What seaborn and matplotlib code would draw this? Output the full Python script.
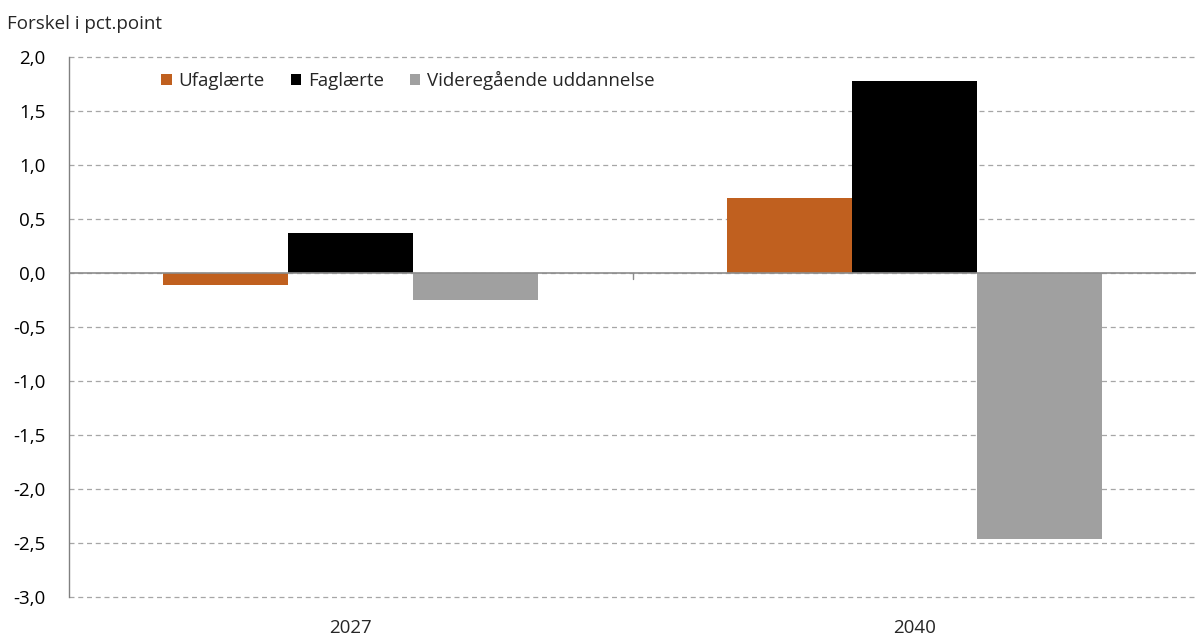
import numpy as np
import pandas as pd
import matplotlib
matplotlib.use("Agg")
import matplotlib.pyplot as plt
import seaborn as sns
from matplotlib.ticker import FuncFormatter

# data
years = ["2027", "2040"]
groups = ["Ufaglærte", "Faglærte", "Videregående uddannelse"]
ufaglaerte = [-0.11, 0.69]
faglaerte = [0.37, 1.78]
videregaaende = [-0.25, -2.46]
colors = ["#C0601F", "#000000", "#A0A0A0"]

df = pd.DataFrame({
    "aar": years * 3,
    "gruppe": [g for g in groups for _ in years],
    "vaerdi": ufaglaerte + faglaerte + videregaaende,
})

sns.set_style("white")
plt.rcParams["font.family"] = ["Open Sans", "DejaVu Sans"]

fig = plt.figure(figsize=(11.96, 6.37), dpi=100)
ax = fig.add_axes([69 / 1196, 1 - 597 / 637, 1 - 69 / 1196, (597 - 57) / 637])

sns.barplot(data=df, x="aar", y="vaerdi", hue="gruppe", hue_order=groups,
            palette=colors, width=0.665, saturation=1, ax=ax, zorder=3,
            linewidth=0, edgecolor="none")

ax.set_ylim(-3.0, 2.0)
ax.set_xlim(-0.5, 1.5)
ax.set_yticks(np.arange(-3.0, 2.01, 0.5))
ax.yaxis.set_major_formatter(FuncFormatter(lambda v, p: f"{v:.1f}".replace(".", ",")))
ax.grid(axis="y", linestyle=(0, (4, 3)), color="#A6A6A6", linewidth=0.9, zorder=0)
for gl in ax.get_ygridlines():
    gl.set_clip_on(False)
ax.tick_params(axis="y", length=6, colors="#808080", labelcolor="black",
               labelsize=13.5, pad=11)
ax.tick_params(axis="x", length=0, labelsize=13.5, pad=16)

for s in ["top", "right", "bottom"]:
    ax.spines[s].set_visible(False)
ax.spines["left"].set_color("#808080")
ax.spines["left"].set_linewidth(1.0)

# zero line and category separator tick
ax.axhline(0, color="#8C8C8C", linewidth=1.2, zorder=4)
ax.plot([0.5, 0.5], [0, -0.06], color="#8C8C8C", linewidth=1.0, zorder=4)

ax.set_xlabel("")
ax.set_ylabel("")
fig.text(0.006, 0.963, "Forskel i pct.point", fontsize=13.5, ha="left", va="center")

leg = ax.legend(loc="upper left", bbox_to_anchor=(0.067, 1.005), ncol=3, frameon=False,
                fontsize=13.5, handlelength=0.55, handleheight=0.55, handletextpad=0.35,
                columnspacing=1.4)

fig.savefig("out.png", dpi=100)
